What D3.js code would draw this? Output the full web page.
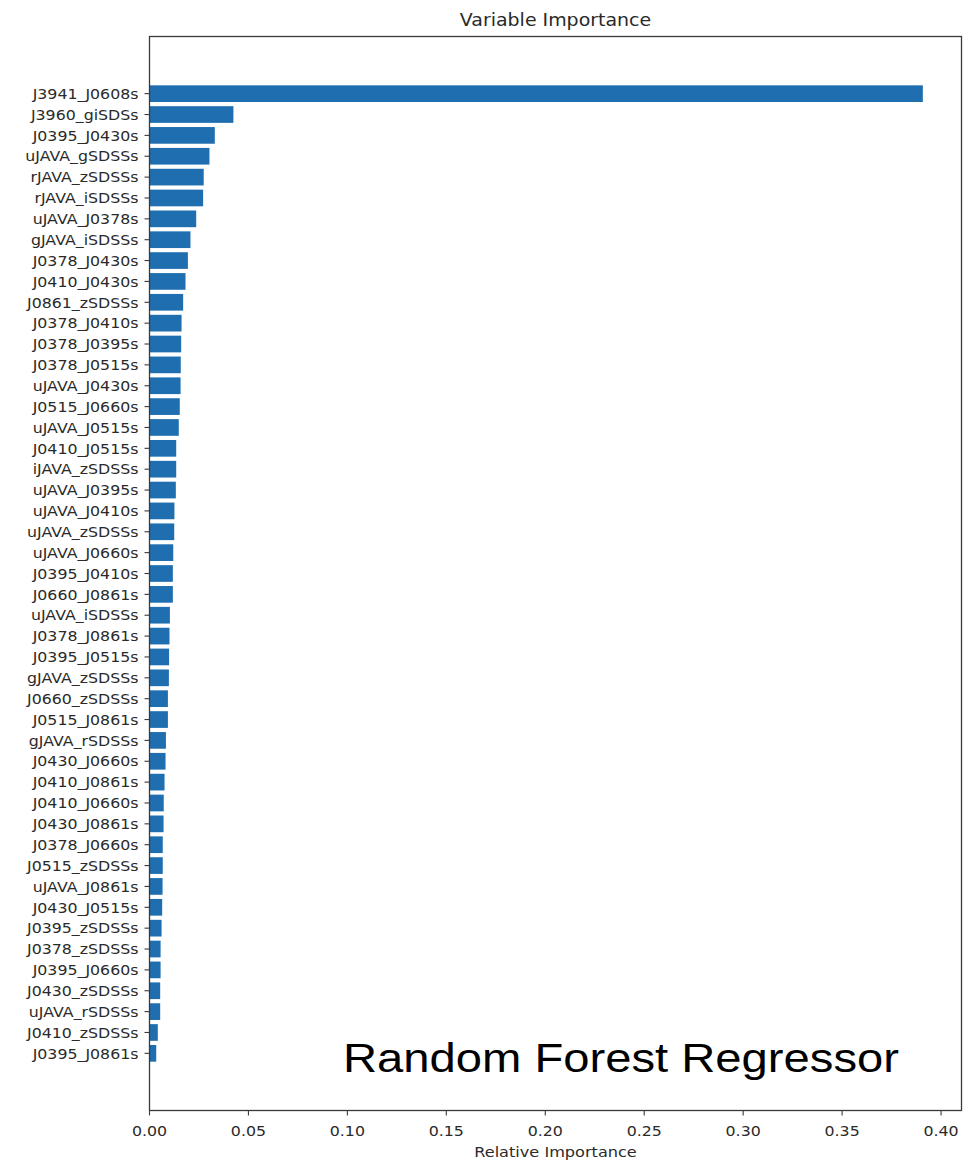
<!DOCTYPE html>
<html>
<head>
<meta charset="utf-8">
<script src="https://cdn.jsdelivr.net/npm/d3@7"></script>
<style>
  body { margin: 0; background: #fff; }
  svg { display: block; }
</style>
</head>
<body>
<svg id="chart" width="975" height="1160"></svg>
<script>
// Features, top (most important) to bottom
const features = [
  "J3941_J0608s", "J3960_giSDSs", "J0395_J0430s", "uJAVA_gSDSSs", "rJAVA_zSDSSs",
  "rJAVA_iSDSSs", "uJAVA_J0378s", "gJAVA_iSDSSs", "J0378_J0430s", "J0410_J0430s",
  "J0861_zSDSSs", "J0378_J0410s", "J0378_J0395s", "J0378_J0515s", "uJAVA_J0430s",
  "J0515_J0660s", "uJAVA_J0515s", "J0410_J0515s", "iJAVA_zSDSSs", "uJAVA_J0395s",
  "uJAVA_J0410s", "uJAVA_zSDSSs", "uJAVA_J0660s", "J0395_J0410s", "J0660_J0861s",
  "uJAVA_iSDSSs", "J0378_J0861s", "J0395_J0515s", "gJAVA_zSDSSs", "J0660_zSDSSs",
  "J0515_J0861s", "gJAVA_rSDSSs", "J0430_J0660s", "J0410_J0861s", "J0410_J0660s",
  "J0430_J0861s", "J0378_J0660s", "J0515_zSDSSs", "uJAVA_J0861s", "J0430_J0515s",
  "J0395_zSDSSs", "J0378_zSDSSs", "J0395_J0660s", "J0430_zSDSSs", "uJAVA_rSDSSs",
  "J0410_zSDSSs", "J0395_J0861s"
];
const importance = [
  0.3908, 0.0424, 0.0330, 0.0303, 0.0274,
  0.0271, 0.0236, 0.0207, 0.0194, 0.0182,
  0.0170, 0.0162, 0.0160, 0.0158, 0.0157,
  0.0153, 0.0148, 0.0135, 0.0135, 0.0133,
  0.0126, 0.0125, 0.0120, 0.0118, 0.0118,
  0.0103, 0.0101, 0.0099, 0.0098, 0.0093,
  0.0093, 0.0083, 0.0081, 0.0076, 0.0072,
  0.0071, 0.0067, 0.0067, 0.0066, 0.0064,
  0.0061, 0.0056, 0.0056, 0.0054, 0.0054,
  0.0042, 0.0034
];
const xTicks = [0, 0.05, 0.10, 0.15, 0.20, 0.25, 0.30, 0.35, 0.40];
const titleText = "Variable Importance";
const xLabelText = "Relative Importance";
const annotationText = "Random Forest Regressor";

(function () {
const svg = d3.select("#chart");
const pLeft = 149.5, pRight = 961.5, pTop = 36.5, pBottom = 1110.5;
const SX = 1.09; // horizontal text stretch of the reference
const tickFont = 14.5;
const n = features.length;

const x = d3.scaleLinear()
  .domain([0, d3.max(importance) * 1.05])
  .range([pLeft, pRight]);

// matplotlib-like bar positions: top bar at position n-1
const barH = 0.8;
const margin = 0.05 * ((n - 1 + barH / 2) - (-barH / 2));
const y = d3.scaleLinear()
  .domain([-barH / 2 - margin, n - 1 + barH / 2 + margin])
  .range([pBottom, pTop]);
const pos = i => n - 1 - i;

const data = features.map((f, i) => ({ f, v: importance[i], p: pos(i) }));

// bars
svg.append("g").selectAll("rect")
  .data(data)
  .join("rect")
  .attr("x", x(0))
  .attr("y", d => y(d.p + barH / 2))
  .attr("width", d => x(d.v) - x(0))
  .attr("height", d => y(d.p - barH / 2) - y(d.p + barH / 2))
  .attr("fill", "#1f6fb0");

// frame
svg.append("rect")
  .attr("x", pLeft).attr("y", pTop)
  .attr("width", pRight - pLeft).attr("height", pBottom - pTop)
  .attr("fill", "none").attr("stroke", "#3a3a3a").attr("stroke-width", 1.3);

// y ticks & labels
const yg = svg.append("g");
yg.selectAll("line")
  .data(data).join("line")
  .attr("x1", pLeft - 5).attr("x2", pLeft)
  .attr("y1", d => y(d.p)).attr("y2", d => y(d.p))
  .attr("stroke", "#3a3a3a").attr("stroke-width", 1.1);
yg.selectAll("text")
  .data(data).join("text")
  .attr("transform", d => `translate(${pLeft - 11},${y(d.p)}) scale(${SX},1)`)
  .attr("dy", "0.36em")
  .attr("text-anchor", "end")
  .attr("font-family", "DejaVu Sans")
  .attr("font-size", tickFont)
  .attr("fill", "#2a2a2a")
  .text(d => d.f);

// x ticks & labels
const xg = svg.append("g");
xg.selectAll("line")
  .data(xTicks).join("line")
  .attr("x1", d => x(d)).attr("x2", d => x(d))
  .attr("y1", pBottom).attr("y2", pBottom + 5)
  .attr("stroke", "#3a3a3a").attr("stroke-width", 1.1);
xg.selectAll("text")
  .data(xTicks).join("text")
  .attr("transform", d => `translate(${x(d)},${pBottom + 25}) scale(${SX},1)`)
  .attr("text-anchor", "middle")
  .attr("font-family", "DejaVu Sans")
  .attr("font-size", tickFont)
  .attr("fill", "#2a2a2a")
  .text(d3.format(".2f"));

// x label
svg.append("text")
  .attr("transform", `translate(${(pLeft + pRight) / 2},${pBottom + 46}) scale(${SX},1)`)
  .attr("text-anchor", "middle")
  .attr("font-family", "DejaVu Sans")
  .attr("font-size", 14.8)
  .attr("fill", "#2a2a2a")
  .text(xLabelText);

// title
svg.append("text")
  .attr("transform", `translate(${(pLeft + pRight) / 2},${pTop - 11}) scale(${SX},1)`)
  .attr("text-anchor", "middle")
  .attr("font-family", "DejaVu Sans")
  .attr("font-size", 17.4)
  .attr("fill", "#2a2a2a")
  .text(titleText);

// annotation
svg.append("text")
  .attr("transform", `translate(343,1072) scale(1.18,1)`)
  .attr("font-family", "Liberation Sans, Arial, sans-serif")
  .attr("font-size", 40)
  .attr("fill", "#000")
  .text(annotationText);
})();
</script>
</body>
</html>
